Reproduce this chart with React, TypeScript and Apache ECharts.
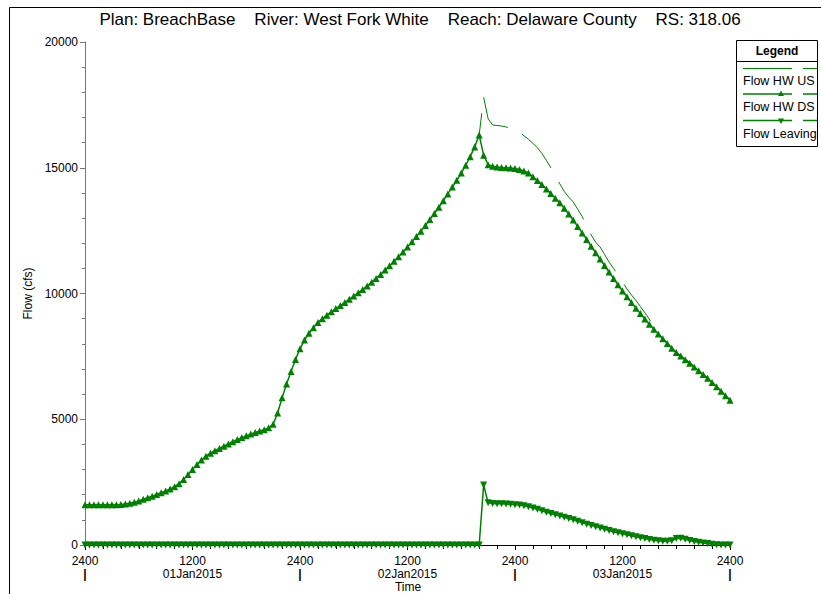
import React, { useEffect, useRef } from "react";
import * as echarts from "echarts";

const STEP_HOURS = 0.5;
const US_START_HOUR = 44;
const X_MAX_HOURS = 72;
const X_TICK_HOURS = 12;
const Y_MAX = 20000;
const Y_TICK = 5000;
const DATE_LABELS = ["01Jan2015", "02Jan2015", "03Jan2015"];
const TITLE_PARTS = ["Plan: BreachBase", "River: West Fork White", "Reach: Delaware County", "RS: 318.06"];
const SERIES_NAMES = ["Flow HW US", "Flow HW DS", "Flow Leaving"];
const Y_NAME = "Flow (cfs)";
const X_NAME = "Time";

// Flow HW DS, every 30 minutes from 0 h to 72 h
const flowHwDs = [
  1600, 1600, 1600, 1600, 1600, 1600, 1600, 1600, 1610, 1630,
  1660, 1700, 1750, 1820, 1880, 1940, 2010, 2080, 2150, 2230,
  2320, 2440, 2600, 2800, 3000, 3200, 3380, 3530, 3650, 3750,
  3840, 3930, 4020, 4110, 4190, 4270, 4340, 4410, 4470, 4530,
  4580, 4660, 4800, 5250, 5850, 6400, 6900, 7380, 7800, 8150,
  8420, 8640, 8850, 9000, 9140, 9270, 9400, 9520, 9640, 9770,
  9900, 10030, 10160, 10300, 10450, 10600, 10760, 10930, 11100, 11280,
  11460, 11650, 11850, 12060, 12270, 12480, 12700, 12940, 13180, 13430,
  13690, 13960, 14230, 14500, 14790, 15100, 15440, 15830, 16300, 15500,
  15120, 15060, 15030, 15010, 15000, 14990, 14970, 14930, 14870, 14790,
  14640, 14490, 14330, 14160, 13980, 13790, 13610, 13390, 13160, 12920,
  12660, 12410, 12150, 11880, 11620, 11370, 11110, 10850, 10600, 10350,
  10100, 9870, 9640, 9410, 9200, 8990, 8780, 8580, 8390, 8200,
  8010, 7820, 7650, 7510, 7370, 7230, 7080, 6930, 6780, 6630,
  6460, 6290, 6110, 5930, 5760,
];

// Flow HW US, every 30 minutes from 44 h to 72 h
const flowHwUs = [
  16300, 17800, 16950, 16700, 16680, 16660, 16620, 16580, 16530, 16420,
  16270, 16130, 15970, 15800, 15570, 15300, 15000, 14680, 14360, 14060,
  13830, 13640, 13350, 13060, 12680, 12330, 12040, 11850, 11550, 11250,
  11000, 10700, 10460, 10180, 9940, 9720, 9480, 9230, 8980, 8640,
  8420, 8230, 8040, 7850, 7680, 7540, 7400, 7260, 7110, 6960,
  6810, 6660, 6490, 6320, 6140, 5960, 5790,
];

// Flow Leaving, every 30 minutes from 0 h to 72 h
const flowLeaving = [
  0, 0, 0, 0, 0, 0, 0, 0, 0, 0,
  0, 0, 0, 0, 0, 0, 0, 0, 0, 0,
  0, 0, 0, 0, 0, 0, 0, 0, 0, 0,
  0, 0, 0, 0, 0, 0, 0, 0, 0, 0,
  0, 0, 0, 0, 0, 0, 0, 0, 0, 0,
  0, 0, 0, 0, 0, 0, 0, 0, 0, 0,
  0, 0, 0, 0, 0, 0, 0, 0, 0, 0,
  0, 0, 0, 0, 0, 0, 0, 0, 0, 0,
  0, 0, 0, 0, 0, 0, 0, 0, 0,
  2390, 1680, 1650, 1640, 1640, 1630, 1620, 1600, 1590, 1560,
  1520, 1470, 1420, 1360, 1300, 1250, 1200, 1150, 1100, 1050,
  1000, 940, 880, 830, 780, 730, 680, 630, 580, 530,
  490, 450, 410, 370, 330, 290, 260, 220, 190, 170,
  150, 150, 170, 260, 270, 230, 180, 140, 110, 80,
  60, 30, 10, 0, 0, 0,
];

const GREEN = "#008000";
const FONT = "'Liberation Sans', Arial, Helvetica, sans-serif";

export default function App() {
  const ref = useRef<HTMLDivElement>(null);

  useEffect(() => {
    const chart = echarts.init(ref.current!, null, { renderer: "svg" });
    const dsData = flowHwDs.map((v, i) => [i * STEP_HOURS, v]);
    const usData = flowHwUs.map((v, i) => [US_START_HOUR + i * STEP_HOURS, v]);
    const lvData = flowLeaving.map((v, i) => [i * STEP_HOURS, v]);
    const sp = "\u00a0\u00a0\u00a0";
    const title = TITLE_PARTS.join(sp + " ");

    const legendX = 736.5;
    const legendY = 40.5;
    const legendW = 81;
    const legendH = 106;
    const sampleRows = [68.5, 94, 120.5];
    const textRows = [80.5, 107, 134];

    const legendChildren: any[] = [
      {
        type: "rect",
        shape: { x: legendX, y: legendY, width: legendW, height: legendH },
        style: { fill: "#fff", stroke: "#000", lineWidth: 1 },
      },
      {
        type: "line",
        shape: { x1: legendX, y1: 61.5, x2: legendX + legendW, y2: 61.5 },
        style: { stroke: "#000", lineWidth: 1 },
      },
      {
        type: "text",
        style: {
          text: "Legend", x: legendX + legendW / 2, y: 51, textAlign: "center", textVerticalAlign: "middle",
          fontSize: 12, fontWeight: "bold", fontFamily: FONT, fill: "#000",
        },
      },
    ];
    SERIES_NAMES.forEach((name, k) => {
      const y = sampleRows[k];
      legendChildren.push(
        { type: "line", shape: { x1: 743, y1: y, x2: 792, y2: y }, style: { stroke: GREEN, lineWidth: k === 0 ? 1 : 1.5 } },
        { type: "line", shape: { x1: 803, y1: y, x2: 817, y2: y }, style: { stroke: GREEN, lineWidth: k === 0 ? 1 : 1.5 } },
        {
          type: "text",
          style: {
            text: name, x: 743, y: textRows[k], textAlign: "left", textVerticalAlign: "middle",
            fontSize: 12.5, fontFamily: FONT, fill: "#000",
          },
        }
      );
      if (k === 1) {
        legendChildren.push({
          type: "polygon",
          shape: { points: [[781, y - 3.5], [784, y + 2], [778, y + 2]] },
          style: { fill: GREEN },
        });
      }
      if (k === 2) {
        legendChildren.push({
          type: "polygon",
          shape: { points: [[778, y - 2], [784, y - 2], [781, y + 3.5]] },
          style: { fill: GREEN },
        });
      }
    });

    chart.setOption({
      animation: false,
      backgroundColor: "#fff",
      textStyle: { fontFamily: FONT },
      grid: { left: 85, right: 91, top: 42, bottom: 49, containLabel: false, outerBoundsMode: "none" },
      xAxis: {
        type: "value",
        min: 0,
        max: X_MAX_HOURS,
        interval: X_TICK_HOURS,
        axisLine: { show: true, onZero: false, lineStyle: { color: "#000", width: 1 } },
        axisTick: { show: true, inside: false, length: 5, lineStyle: { color: "#000" } },
        minorTick: { show: true, splitNumber: 6, length: 4, lineStyle: { color: "#000" } },
        splitLine: { show: false },
        minorSplitLine: { show: false },
        axisLabel: {
          show: true,
          margin: 9,
          fontSize: 12,
          lineHeight: 13,
          color: "#000",
          fontFamily: FONT,
          showMinLabel: true,
          showMaxLabel: true,
          formatter: (value: number) => {
            if (value % 24 === 0) return "2400\n{bar||}";
            return "1200\n" + DATE_LABELS[Math.floor(value / 24)];
          },
          rich: {
            bar: { fontSize: 12, fontWeight: "bold", color: "#000", lineHeight: 13, fontFamily: FONT },
          },
        },
      },
      yAxis: {
        type: "value",
        min: 0,
        max: Y_MAX,
        interval: Y_TICK,
        name: Y_NAME,
        nameLocation: "middle",
        nameGap: 49,
        nameRotate: 90,
        nameTextStyle: { fontSize: 12, color: "#000", fontFamily: FONT },
        axisLine: { show: true, lineStyle: { color: "#777", width: 1 } },
        axisTick: { show: true, inside: false, length: 5, lineStyle: { color: "#777" } },
        minorTick: { show: true, splitNumber: 5, length: 3, lineStyle: { color: "#777" } },
        splitLine: { show: false },
        minorSplitLine: { show: false },
        axisLabel: {
          margin: 7,
          fontSize: 12,
          color: "#000",
          fontFamily: FONT,
          formatter: (v: number) => String(v),
        },
      },
      series: [
        {
          name: SERIES_NAMES[0],
          type: "line",
          data: usData,
          showSymbol: false,
          symbol: "none",
          lineStyle: { color: GREEN, width: 1, type: [45, 16], dashOffset: 23 },
          itemStyle: { color: GREEN },
          z: 2,
        },
        {
          name: SERIES_NAMES[1],
          type: "line",
          data: dsData,
          symbol: "triangle",
          symbolSize: 7,
          showAllSymbol: true,
          lineStyle: { color: GREEN, width: 1.5 },
          itemStyle: { color: GREEN },
          z: 3,
        },
        {
          name: SERIES_NAMES[2],
          type: "line",
          data: lvData,
          symbol: "triangle",
          symbolRotate: 180,
          symbolSize: 7,
          showAllSymbol: true,
          lineStyle: { color: GREEN, width: 1.5 },
          itemStyle: { color: GREEN },
          z: 4,
        },
      ],
      graphic: [
        {
          type: "polyline",
          shape: { points: [[9.5, 594], [9.5, 7.5], [821, 7.5]] },
          style: { stroke: "#000", lineWidth: 1, fill: null },
        },
        {
          type: "text",
          style: {
            text: title, x: 420, y: 19, textAlign: "center", textVerticalAlign: "middle",
            fontSize: 17, fontFamily: FONT, fill: "#000",
          },
        },
        {
          type: "text",
          style: {
            text: X_NAME, x: 408, y: 587, textAlign: "center", textVerticalAlign: "middle",
            fontSize: 12, lineHeight: 12, fontFamily: FONT, fill: "#000",
          },
        },
        { type: "group", children: legendChildren },
      ],
    });

    return () => chart.dispose();
  }, []);

  return <div ref={ref} style={{ position: "absolute", left: 0, top: 0, width: 821, height: 594 }} />;
}
